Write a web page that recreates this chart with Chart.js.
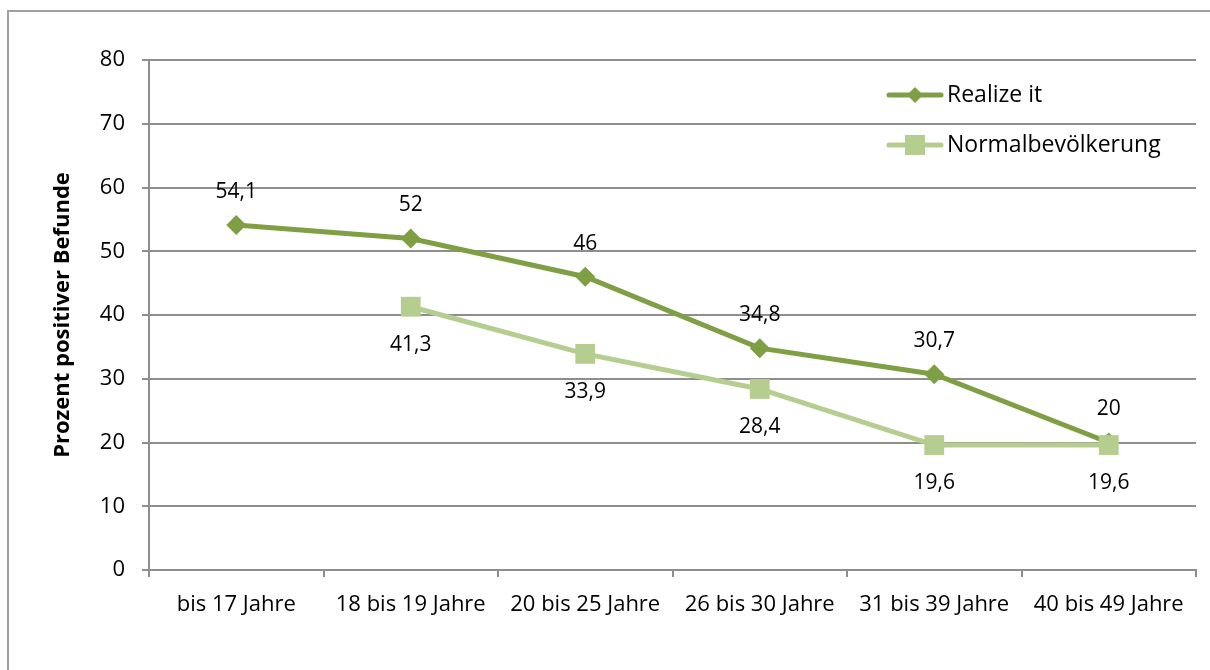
<!DOCTYPE html>
<html>
<head>
<meta charset="utf-8">
<script src="https://cdn.jsdelivr.net/npm/chart.js@4/dist/chart.umd.min.js"></script>
<style>
  html, body { margin: 0; padding: 0; background: #fff; }
  #wrap { position: relative; width: 1210px; height: 670px; overflow: hidden; }
  #frame { position: absolute; left: 7px; top: 10px; width: 1300px; height: 800px;
           border-top: 2px solid #a0a0a0; border-left: 2px solid #a0a0a0; pointer-events: none; }
  canvas { position: absolute; left: 0; top: 0; }
</style>
</head>
<body>
<div id="wrap">
  <div id="frame"></div>
  <canvas id="c" width="1210" height="670"></canvas>
</div>
<script>
const categories = ["bis 17 Jahre", "18 bis 19 Jahre", "20 bis 25 Jahre", "26 bis 30 Jahre", "31 bis 39 Jahre", "40 bis 49 Jahre"];
const realizeIt = [54.1, 52, 46, 34.8, 30.7, 20];
const normalbevoelkerung = [null, 41.3, 33.9, 28.4, 19.6, 19.6];
const yTicks = [0, 10, 20, 30, 40, 50, 60, 70, 80];
const seriesNames = ["Realize it", "Normalbevölkerung"];

const DARK = "#7f9f45";
const LIGHT = "#b5cd8f";
const GRID = "#8e8e8e";
const FONT = "'Open Sans', 'Noto Sans', sans-serif";

const fmt = v => String(v).replace('.', ',');

const labelPlugin = {
  id: 'labels',
  afterDatasetsDraw(chart) {
    const ctx = chart.ctx;
    ctx.save();
    ctx.font = "21px " + FONT;
    ctx.fillStyle = "#000";
    ctx.textAlign = "center";
    ctx.textBaseline = "middle";
    chart.data.datasets.forEach((ds, i) => {
      const meta = chart.getDatasetMeta(i);
      meta.data.forEach((pt, j) => {
        const v = ds.data[j];
        if (v === null || v === undefined) return;
        const off = ds.labelPos === 'above' ? -33 : 38;
        ctx.fillText(fmt(v), pt.x, pt.y + off);
      });
    });
    ctx.restore();
  }
};

const legendPlugin = {
  id: 'customLegend',
  afterDraw(chart) {
    const ctx = chart.ctx;
    ctx.save();
    const items = [
      { name: seriesNames[0], color: DARK, style: 'diamond', y: 95 },
      { name: seriesNames[1], color: LIGHT, style: 'square', y: 145 }
    ];
    items.forEach(it => {
      ctx.strokeStyle = it.color;
      ctx.lineWidth = 5;
      ctx.lineCap = 'round';
      ctx.beginPath();
      ctx.moveTo(889, it.y);
      ctx.lineTo(941, it.y);
      ctx.stroke();
      ctx.fillStyle = it.color;
      if (it.style === 'diamond') {
        ctx.beginPath();
        ctx.moveTo(915, it.y - 8);
        ctx.lineTo(923, it.y);
        ctx.lineTo(915, it.y + 8);
        ctx.lineTo(907, it.y);
        ctx.closePath();
        ctx.fill();
      } else {
        ctx.fillRect(905, it.y - 10, 20, 20);
      }
      ctx.fillStyle = "#000";
      ctx.font = "23px " + FONT;
      ctx.textAlign = "left";
      ctx.textBaseline = "middle";
      ctx.fillText(it.name, 947, it.y);
    });
    ctx.restore();
  }
};

new Chart(document.getElementById('c'), {
  type: 'line',
  data: {
    labels: categories,
    datasets: [
      {
        label: seriesNames[0],
        data: realizeIt,
        borderColor: DARK,
        backgroundColor: DARK,
        borderWidth: 5,
        pointStyle: 'rectRot',
        pointRadius: 10,
        pointBorderWidth: 0,
        pointBackgroundColor: DARK,
        tension: 0,
        order: 1,
        labelPos: 'above'
      },
      {
        label: seriesNames[1],
        data: normalbevoelkerung,
        borderColor: LIGHT,
        backgroundColor: LIGHT,
        borderWidth: 5,
        pointStyle: 'rect',
        pointRadius: 14,
        pointBorderWidth: 0,
        pointBackgroundColor: LIGHT,
        tension: 0,
        spanGaps: false,
        order: 0,
        labelPos: 'below'
      }
    ]
  },
  options: {
    responsive: false,
    animation: false,
    layout: { padding: { top: 60, right: 10, left: 0, bottom: 0 } },
    plugins: {
      legend: { display: false },
      tooltip: { enabled: false }
    },
    scales: {
      x: {
        offset: true,
        afterFit(s) { s.height = 100; s.paddingLeft = 0; s.paddingRight = 0; },
        grid: { display: true, drawOnChartArea: false, offset: true, tickLength: 7, color: GRID, lineWidth: 2 },
        border: { display: true, color: GRID, width: 2 },
        ticks: { color: "#000", font: { family: FONT, size: 22 }, padding: 15, maxRotation: 0, autoSkip: false }
      },
      y: {
        min: 0,
        max: 80,
        afterFit(s) { s.width = 149; },
        afterBuildTicks(s) { s.ticks = yTicks.map(v => ({ value: v })); },
        grid: { color: GRID, lineWidth: 2, tickLength: 7 },
        border: { display: true, color: GRID, width: 2 },
        ticks: { color: "#000", font: { family: FONT, size: 22 }, padding: 17 },
        title: {
          display: true,
          text: "Prozent positiver Befunde",
          color: "#000",
          font: { family: FONT, size: 22, weight: 'bold' },
          padding: { top: 50, bottom: 0 }
        }
      }
    }
  },
  plugins: [labelPlugin, legendPlugin]
});
</script>
</body>
</html>
